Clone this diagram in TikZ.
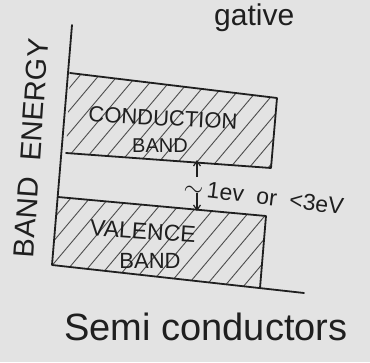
\documentclass[tikz,border=0pt]{standalone}
\usepackage{fontspec}
\setmainfont{Liberation Sans}
\usetikzlibrary{arrows.meta}
\begin{document}
\begin{tikzpicture}[x=1pt,y=-1pt,
  ink/.style={line width=1.8pt, black!88, line cap=round, line join=round},
  hatchline/.style={line width=0.9pt, black!70, line cap=round},
  gaparrow/.style={line width=1.2pt, black!88, -{Straight Barb[length=5pt,width=7pt]}},
  lbl/.style={inner sep=0pt, text=black!88}]
\fill[black!11] (0,0) rectangle (370,362);
\useasboundingbox (0,0) rectangle (370,362);

% key points
\coordinate (ax0) at (72,25);
\coordinate (ax1) at (52,265);
\coordinate (hx1) at (304,293);
\coordinate (c1) at (70,73);
\coordinate (c2) at (277,98);
\coordinate (c3) at (271,168);
\coordinate (c4) at (66,153);
\coordinate (v1) at (58,197);
\coordinate (v2) at (266,216);
\coordinate (v3) at (260,288);

% hatching
\begin{scope}
  \clip (c1) -- (c2) -- (c3) -- (c4) -- cycle;
  \foreach \k in {-120,-101,...,300} \draw[hatchline] (\k,200) -- ++(160,-190);
\end{scope}
\begin{scope}
  \clip (v1) -- (v2) -- (v3) -- (ax1) -- cycle;
  \foreach \k in {-110,-91,...,320} \draw[hatchline] (\k,300) -- ++(160,-190);
\end{scope}

% axes
\draw[ink] (ax0) -- (ax1) -- (hx1);
% conduction band
\draw[ink] (c1) -- (c2) -- (c3) -- (c4);
% valence band
\draw[ink] (v1) -- (v2) -- (v3);

% gap arrows
\coordinate (upS) at (197,177);
\coordinate (upE) at (197,160);
\coordinate (dnS) at (197,193);
\coordinate (dnE) at (197,211);
\draw[gaparrow] (upS) -- (upE);
\draw[gaparrow] (dnS) -- (dnE);

% labels
\node[lbl, rotate=-3] (cb1) at (163,118) {\fontsize{22}{24}\selectfont CONDUCTION};
\node[lbl] (cb2) at (160,146) {\fontsize{20}{22}\selectfont BAND};
\node[lbl, rotate=-4] (vb1) at (143,231) {\fontsize{23}{25}\selectfont VALENCE};
\node[lbl] (vb2) at (150,261) {\fontsize{22}{24}\selectfont BAND};
\node[lbl, rotate=-7, anchor=west] (gap) at (184,187) {\fontsize{23}{26}\selectfont $\sim$\,1ev\ \ or\ \ <3eV};
\node[lbl, rotate=86] (yl) at (31,148) {\fontsize{29}{32}\selectfont BAND\ \ ENERGY};
\node[lbl] (xl) at (206,327) {\fontsize{38}{42}\selectfont Semi conductors};
\node[lbl, anchor=base west] (top) at (214,25) {\fontsize{30}{34}\selectfont gative};
\end{tikzpicture}
\end{document}
